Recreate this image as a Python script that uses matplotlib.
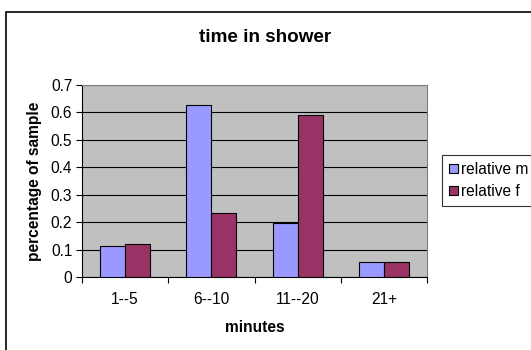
import matplotlib.pyplot as plt
from matplotlib.patches import Rectangle, Patch
import numpy as np

plt.rcParams['font.family'] = ['Liberation Sans', 'DejaVu Sans']

categories = ['1--5', '6--10', '11--20', '21+']
relative_m = [0.114, 0.628, 0.198, 0.056]
relative_f = [0.119, 0.232, 0.589, 0.056]

col_m = '#9999FF'
col_f = '#993366'
fs = 11.2

fig = plt.figure(figsize=(5.31, 3.5), dpi=100)
fig.patch.set_facecolor('white')

# chart frame
fig.add_artist(Rectangle((5.5 / 531, -0.1), 1.2, 1 - 11.5 / 350 + 0.1,
                         transform=fig.transFigure, fill=False,
                         edgecolor='black', linewidth=1.2))

ax = fig.add_axes([82 / 531, 1 - 277 / 350, (427 - 82) / 531, (277 - 85) / 350])
ax.set_facecolor('#C0C0C0')

x = np.arange(len(categories))
w = 0.29
ax.bar(x - w / 2, relative_m, w, color=col_m, edgecolor='black', linewidth=0.8, zorder=3)
ax.bar(x + w / 2, relative_f, w, color=col_f, edgecolor='black', linewidth=0.8, zorder=3)

ax.set_xlim(-0.5, len(categories) - 0.5)
ax.set_ylim(0, 0.7)
ax.set_yticks(np.arange(0, 0.71, 0.1))
ax.set_yticklabels(['0', '0.1', '0.2', '0.3', '0.4', '0.5', '0.6', '0.7'])
ax.yaxis.grid(True, color='black', linewidth=0.8, zorder=1)

ax.set_xticks(np.arange(-0.5, len(categories), 1.0))
ax.set_xticklabels([])
ax.set_xticks(x, minor=True)
ax.set_xticklabels(categories, minor=True)
ax.tick_params(axis='x', which='minor', length=0, pad=11, labelsize=fs)
ax.tick_params(axis='x', which='major', length=4, width=0.8, direction='out')
ax.tick_params(axis='y', length=4, width=0.8, direction='out', labelsize=fs, pad=3)

for s in ['top', 'right']:
    ax.spines[s].set_color('#808080')
    ax.spines[s].set_linewidth(0.8)
for s in ['left', 'bottom']:
    ax.spines[s].set_color('black')
    ax.spines[s].set_linewidth(0.8)

ax.set_xlabel('minutes', fontsize=fs, fontweight='bold', labelpad=9)
ax.set_ylabel('percentage of sample', fontsize=fs, fontweight='bold', labelpad=6)
fig.text(265 / 531, 1 - 37 / 350, 'time in shower', ha='center', va='center',
         fontsize=13.6, fontweight='bold')

handles = [Patch(facecolor=col_m, edgecolor='black', linewidth=0.8),
           Patch(facecolor=col_f, edgecolor='black', linewidth=0.8)]
leg = fig.legend(handles, ['relative m', 'relative f'], loc='upper left',
                 bbox_to_anchor=(442 / 531, 1 - 155 / 350), fontsize=fs,
                 frameon=True, fancybox=False, handlelength=0.55, handleheight=0.55,
                 handletextpad=0.25, borderpad=0.45, labelspacing=0.45, borderaxespad=0)
leg.get_frame().set_edgecolor('black')
leg.get_frame().set_linewidth(0.8)

fig.savefig('out.png', dpi=100)
